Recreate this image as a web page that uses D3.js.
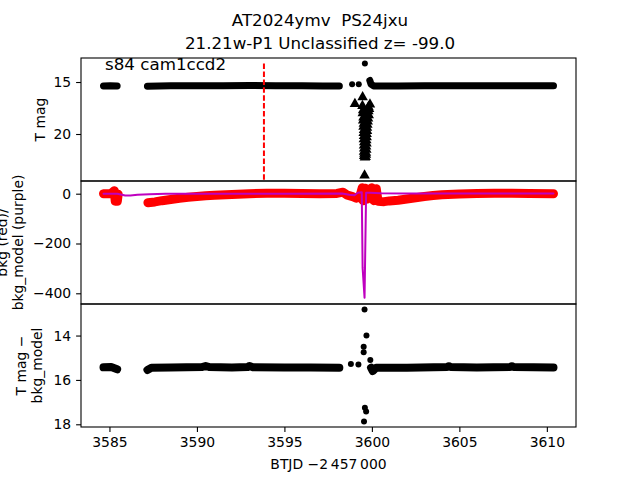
<!DOCTYPE html>
<html>
<head>
<meta charset="utf-8">
<script src="https://cdn.jsdelivr.net/npm/d3@7"></script>
<style>
body { margin: 0; background: #fff; }
text { font-family: "DejaVu Sans", sans-serif; fill: #000; white-space: pre; }
</style>
</head>
<body>
<script>
// ---- data ----
var titleLines = ["AT2024ymv  PS24jxu", "21.21w-P1 Unclassified z= -99.0"];
var sectorLabel = "s84 cam1ccd2";
var markerTime = 3593.83;

var xTicks = [3585, 3590, 3595, 3600, 3605, 3610];
var topTicks = [15, 20];
var midTicks = [0, -200, -400];
var botTicks = [14, 16, 18];

// top panel: T mag (dense band, null = gap)
var topBand = [[3584.66,15.38],[3585.05,15.36],[3585.44,15.38],null,
  [3587.17,15.40],[3588.5,15.37],[3590,15.36],[3591.5,15.35],[3593,15.34],[3594.5,15.36],
  [3596,15.37],[3597.2,15.38],[3598.14,15.38],null,
  [3599.88,14.85],[3599.95,15.2],[3600.1,15.38],[3601.5,15.38],[3603,15.37],[3604.5,15.36],
  [3606,15.36],[3607.5,15.37],[3609,15.37],[3610.38,15.37]];
var topDots = [[3598.87,15.22],[3599.25,15.22],[3599.6,13.23]];
// upper limits (triangles)
var limT = [3599.03,3599.47,3599.89,
  3599.46,3599.80,3599.84,3599.50,3599.80,3599.48,3599.76,3599.82,3599.52,3599.78,
  3599.50,3599.76,3599.54,3599.74,3599.52,3599.72,3599.55,3599.72,3599.53,3599.70,
  3599.55,3599.70,3599.54,3599.68,3599.56,3599.69,3599.55,3599.67,3599.56,3599.68,
  3599.55,3599.66,3599.57,3599.66,3599.56,3599.64,3599.60,3599.58];
var limM = [17.1,16.45,17.15,
  17.3,17.4,17.6,17.7,17.8,18.0,18.1,18.2,18.4,18.5,
  18.7,18.8,19.0,19.1,19.3,19.4,19.6,19.7,19.9,20.0,
  20.2,20.3,20.5,20.6,20.8,20.9,21.1,21.2,21.4,21.5,
  21.7,21.8,21.9,22.0,22.1,22.2,22.25,23.98];

// middle panel: bkg (red) and bkg_model (purple)
var bkgBand = [[3584.66,0],[3585.1,1],[3585.28,12],[3585.33,-30],[3585.45,-30],[3585.5,-2],null,
  [3587.2,-36],[3587.6,-33],[3588.0,-28],[3588.5,-23],[3589.0,-18],[3589.5,-14],[3590.0,-11],
  [3590.5,-8],[3591.0,-6],[3592.0,-3],[3593.0,0],[3594.0,2],[3595.0,2],[3596.0,1],[3597.0,0],
  [3598.0,1],[3598.35,6],[3598.6,-6],[3598.9,-12],[3599.1,-18],[3599.3,-14],[3599.45,24],
  [3599.5,-28],[3599.62,22],[3599.72,-22],[3599.85,-12],[3600.0,24],[3600.12,-28],[3600.25,20],
  [3600.35,-30],[3600.7,-32],[3601.0,-29],[3601.5,-26],[3602.0,-21],[3602.5,-16],[3603.0,-11],
  [3603.5,-7],[3604.0,-4],[3605.0,-1],[3606.0,1],[3607.0,2],[3608.0,2],[3609.0,1],[3610.38,0]];
var bkgModel = [[3584.66,0],[3585.45,0],[3585.9,-7],[3586.2,-7],[3586.6,-4],[3587.3,-2],[3588.2,0],
  [3590,0],[3595,0],[3598.3,1],[3598.7,-4],[3599.0,-6],[3599.2,4],[3599.42,6],[3599.47,-298],
  [3599.58,-418],[3599.67,4],[3599.9,4],[3600.5,2],[3602,1],[3605,1],[3610.38,1]];

// bottom panel: T mag - bkg_model
var diffBand = [[3584.66,15.43],[3585.1,15.42],[3585.44,15.52],null,
  [3587.17,15.55],[3587.4,15.45],[3588.5,15.44],[3590.3,15.42],[3590.5,15.37],[3590.7,15.42],
  [3592,15.44],[3592.9,15.42],[3593.0,15.37],[3593.2,15.43],[3595,15.44],[3596.5,15.44],
  [3598.14,15.45],null,
  [3599.95,15.45],[3600.05,15.6],[3600.25,15.45],[3602,15.45],[3604.3,15.42],[3604.4,15.38],
  [3604.5,15.42],[3606,15.44],[3607.9,15.42],[3608.0,15.38],[3608.1,15.42],[3610.38,15.44]];
var diffDots = [[3598.8,15.28],[3599.23,15.3],[3599.91,15.1],[3599.58,12.83],[3599.69,14.0],
  [3599.53,14.5],[3599.53,14.75],[3599.6,17.25],[3599.67,17.42],[3599.55,17.87]];

// ---- layout ----
var W = 640, H = 480;
var L = 81, R = 576;
var panels = [[58,181],[181,304],[304,427]];

var svg = d3.select("body").append("svg")
    .attr("width", W)
    .attr("height", H);

var x = d3.scaleLinear().domain([3583.374, 3611.666]).range([L, R]);
var yTop = d3.scaleLinear().domain([12.69, 24.52]).range(panels[0]);
var yMid = d3.scaleLinear().domain([51, -443]).range(panels[1]);
var yBot = d3.scaleLinear().domain([12.578, 18.122]).range(panels[2]);

// clip each panel
var defs = svg.append("defs");
panels.forEach(function(p, i) {
  defs.append("clipPath").attr("id", "clip" + i)
    .append("rect").attr("x", L).attr("y", p[0]).attr("width", R - L).attr("height", p[1] - p[0]);
});

function band(g, data, y, color, width) {
  var line = d3.line()
      .defined(function(d) { return d !== null; })
      .x(function(d) { return x(d[0]); })
      .y(function(d) { return y(d[1]); });
  g.append("path")
    .attr("d", line(data))
    .attr("fill", "none")
    .attr("stroke", color)
    .attr("stroke-width", width)
    .attr("stroke-linecap", "round")
    .attr("stroke-linejoin", "round");
}

function dots(g, data, y) {
  g.selectAll(null)
    .data(data)
    .enter().append("circle")
      .attr("cx", function(d) { return x(d[0]); })
      .attr("cy", function(d) { return y(d[1]); })
      .attr("r", 3)
      .attr("fill", "black");
}

// top panel
var g0 = svg.append("g").attr("clip-path", "url(#clip0)");
band(g0, topBand, yTop, "black", 7);
dots(g0, topDots, yTop);
g0.selectAll(null)
  .data(limT)
  .enter().append("path")
    .attr("d", d3.symbol().type(d3.symbolTriangle).size(48))
    .attr("transform", function(d, i) { return "translate(" + x(d) + "," + yTop(limM[i]) + ")"; })
    .attr("fill", "black");
g0.append("line")
    .attr("x1", x(markerTime)).attr("x2", x(markerTime))
    .attr("y1", yTop(13.23)).attr("y2", panels[0][1])
    .attr("stroke", "red")
    .attr("stroke-width", 2)
    .attr("stroke-dasharray", "5.5,2.4");
svg.append("text")
    .attr("x", 105).attr("y", 70)
    .attr("font-size", "16.7px")
    .text(sectorLabel);

// middle panel
var g1 = svg.append("g").attr("clip-path", "url(#clip1)");
band(g1, bkgBand, yMid, "#ff0000", 9);
band(g1, bkgModel, yMid, "#bf00bf", 2);

// bottom panel
var g2 = svg.append("g").attr("clip-path", "url(#clip2)");
band(g2, diffBand, yBot, "black", 8);
dots(g2, diffDots, yBot);

// axes
function yAxis(scale, ticks) {
  var a = svg.append("g")
      .attr("transform", "translate(" + L + ",0)")
      .call(d3.axisLeft(scale).tickValues(ticks).tickFormat(d3.format("d"))
        .tickSize(4.9).tickPadding(4.9).tickSizeOuter(0));
  a.select(".domain").remove();
  a.selectAll("text").attr("font-size", "13.9px").attr("font-family", "DejaVu Sans");
  a.selectAll("line").attr("stroke-width", 1.1);
}
yAxis(yTop, topTicks);
yAxis(yMid, midTicks);
yAxis(yBot, botTicks);

var xa = svg.append("g")
    .attr("transform", "translate(0," + panels[2][1] + ")")
    .call(d3.axisBottom(x).tickValues(xTicks).tickFormat(d3.format("d")).tickSize(4.9).tickPadding(4.9).tickSizeOuter(0));
xa.select(".domain").remove();
xa.selectAll("text").attr("font-size", "13.9px").attr("font-family", "DejaVu Sans");
xa.selectAll("line").attr("stroke-width", 1.1);

panels.forEach(function(p) {
  svg.append("rect")
      .attr("x", L).attr("y", p[0])
      .attr("width", R - L).attr("height", p[1] - p[0])
      .attr("fill", "none")
      .attr("stroke", "black")
      .attr("stroke-width", 1.1);
});

// labels
function yLabel(lines, cx, cy) {
  lines.forEach(function(s, i) {
    svg.append("text")
        .attr("transform", "translate(" + cx[i] + "," + cy + ") rotate(-90)")
        .attr("text-anchor", "middle")
        .attr("font-size", "13.9px")
        .text(s);
  });
}
yLabel(["T mag"], [45], 119.5);
yLabel(["bkg (red)/", "bkg_model (purple)"], [7, 23], 242.5);
yLabel(["T mag \u2212", "bkg_model"], [26, 42], 365.5);

svg.append("text")
    .attr("x", (L + R) / 2).attr("y", 469)
    .attr("text-anchor", "middle")
    .attr("font-size", "13.9px")
    .text("BTJD \u22122\u2009457\u2009000");

titleLines.forEach(function(s, i) {
  svg.append("text")
      .attr("x", 320).attr("y", 26 + i * 23)
      .attr("text-anchor", "middle")
      .attr("font-size", "16.7px")
      .text(s);
});
</script>
</body>
</html>
